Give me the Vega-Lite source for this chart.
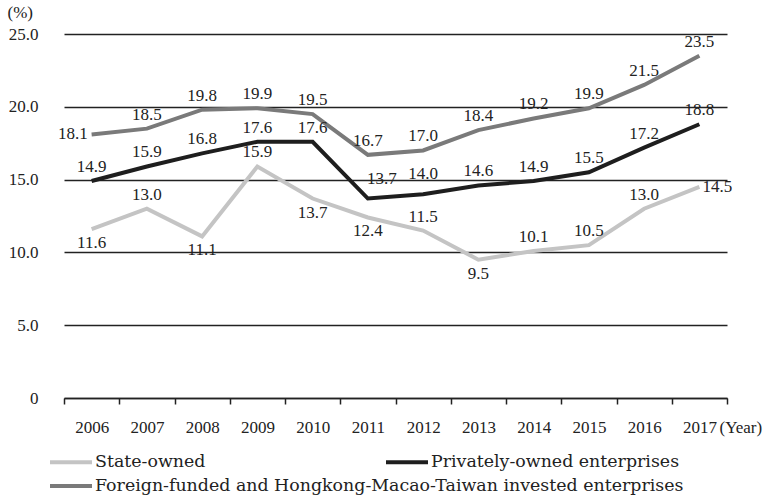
{
  "$schema": "https://vega.github.io/schema/vega-lite/v6.json",
  "width": 663,
  "height": 364,
  "autosize": "none",
  "padding": {"left": 64, "top": 34, "right": 41, "bottom": 100},
  "background": "white",
  "config": {
    "view": {"stroke": null},
    "font": "Liberation Serif",
    "text": {"font": "Liberation Serif", "fontSize": 17, "fill": "#222"},
    "legend": {"padding": 0}
  },
  "data": {
    "values": [
      {"year": "2006", "series": "State-owned", "value": 11.6, "pos": "below"},
      {"year": "2007", "series": "State-owned", "value": 13.0, "pos": "above"},
      {"year": "2008", "series": "State-owned", "value": 11.1, "pos": "below"},
      {"year": "2009", "series": "State-owned", "value": 15.9, "pos": "above"},
      {"year": "2010", "series": "State-owned", "value": 13.7, "pos": "below"},
      {"year": "2011", "series": "State-owned", "value": 12.4, "pos": "below"},
      {"year": "2012", "series": "State-owned", "value": 11.5, "pos": "above"},
      {"year": "2013", "series": "State-owned", "value": 9.5, "pos": "below"},
      {"year": "2014", "series": "State-owned", "value": 10.1, "pos": "above"},
      {"year": "2015", "series": "State-owned", "value": 10.5, "pos": "above"},
      {"year": "2016", "series": "State-owned", "value": 13.0, "pos": "above"},
      {"year": "2017", "series": "State-owned", "value": 14.5, "pos": "right"},
      {"year": "2006", "series": "Privately-owned enterprises", "value": 14.9, "pos": "above"},
      {"year": "2007", "series": "Privately-owned enterprises", "value": 15.9, "pos": "above"},
      {"year": "2008", "series": "Privately-owned enterprises", "value": 16.8, "pos": "above"},
      {"year": "2009", "series": "Privately-owned enterprises", "value": 17.6, "pos": "above"},
      {"year": "2010", "series": "Privately-owned enterprises", "value": 17.6, "pos": "above"},
      {"year": "2011", "series": "Privately-owned enterprises", "value": 13.7, "pos": "aboveright"},
      {"year": "2012", "series": "Privately-owned enterprises", "value": 14.0, "pos": "higher"},
      {"year": "2013", "series": "Privately-owned enterprises", "value": 14.6, "pos": "above"},
      {"year": "2014", "series": "Privately-owned enterprises", "value": 14.9, "pos": "above"},
      {"year": "2015", "series": "Privately-owned enterprises", "value": 15.5, "pos": "above"},
      {"year": "2016", "series": "Privately-owned enterprises", "value": 17.2, "pos": "above"},
      {"year": "2017", "series": "Privately-owned enterprises", "value": 18.8, "pos": "above"},
      {"year": "2006", "series": "Foreign-funded and Hongkong-Macao-Taiwan invested enterprises", "value": 18.1, "pos": "left"},
      {"year": "2007", "series": "Foreign-funded and Hongkong-Macao-Taiwan invested enterprises", "value": 18.5, "pos": "above"},
      {"year": "2008", "series": "Foreign-funded and Hongkong-Macao-Taiwan invested enterprises", "value": 19.8, "pos": "above"},
      {"year": "2009", "series": "Foreign-funded and Hongkong-Macao-Taiwan invested enterprises", "value": 19.9, "pos": "above"},
      {"year": "2010", "series": "Foreign-funded and Hongkong-Macao-Taiwan invested enterprises", "value": 19.5, "pos": "above"},
      {"year": "2011", "series": "Foreign-funded and Hongkong-Macao-Taiwan invested enterprises", "value": 16.7, "pos": "above"},
      {"year": "2012", "series": "Foreign-funded and Hongkong-Macao-Taiwan invested enterprises", "value": 17.0, "pos": "above"},
      {"year": "2013", "series": "Foreign-funded and Hongkong-Macao-Taiwan invested enterprises", "value": 18.4, "pos": "above"},
      {"year": "2014", "series": "Foreign-funded and Hongkong-Macao-Taiwan invested enterprises", "value": 19.2, "pos": "above"},
      {"year": "2015", "series": "Foreign-funded and Hongkong-Macao-Taiwan invested enterprises", "value": 19.9, "pos": "above"},
      {"year": "2016", "series": "Foreign-funded and Hongkong-Macao-Taiwan invested enterprises", "value": 21.5, "pos": "above"},
      {"year": "2017", "series": "Foreign-funded and Hongkong-Macao-Taiwan invested enterprises", "value": 23.5, "pos": "above"}
    ]
  },
  "encoding": {
    "x": {
      "field": "year", "type": "ordinal", "bandPosition": 0.5,
      "scale": {"type": "band", "paddingInner": 0, "paddingOuter": 0},
      "axis": {
        "title": "(Year)", "titleFont": "Liberation Serif", "titleFontSize": 17, "titleFontWeight": "normal",
        "titleColor": "#222", "titleAlign": "left", "titleBaseline": "middle", "titleX": 655, "titleY": 29, "titleAngle": 0,
        "labelFont": "Liberation Serif", "labelFontSize": 17, "labelColor": "#222", "labelAngle": 0, "labelPadding": 15,
        "domainColor": "#222", "domainWidth": 1.5, "tickColor": "#222", "tickWidth": 1.5, "tickSize": 6,
        "tickBand": "extent", "grid": false
      }
    },
    "y": {
      "field": "value", "type": "quantitative",
      "scale": {"domain": [0, 25]},
      "axis": {
        "values": [0, 5, 10, 15, 20, 25],
        "labelExpr": "datum.value == 0 ? '0' : format(datum.value, '.1f')",
        "title": "(%)", "titleFont": "Liberation Serif", "titleFontSize": 17, "titleFontWeight": "normal", "titleColor": "#222",
        "titleAngle": 0, "titleAlign": "left", "titleBaseline": "middle", "titleX": -57, "titleY": -22,
        "labelFont": "Liberation Serif", "labelFontSize": 17, "labelColor": "#222", "labelPadding": 26,
        "domain": false, "ticks": false,
        "grid": true, "gridColor": "#222", "gridWidth": 1.5
      }
    }
  },
  "layer": [
    {
      "transform": [{"filter": "datum.series != 'Foreign-funded and Hongkong-Macao-Taiwan invested enterprises'"}],
      "mark": {"type": "line", "strokeWidth": 4},
      "encoding": {
        "color": {
          "field": "series", "type": "nominal",
          "scale": {
            "domain": ["State-owned", "Privately-owned enterprises"],
            "range": ["#c4c4c4", "#1e1e1e"]
          },
          "legend": {
            "title": null, "orient": "none", "direction": "horizontal", "columns": 2,
            "legendX": -16, "legendY": 405, "columnPadding": 172,
            "symbolType": "stroke", "symbolSize": 1764, "symbolStrokeWidth": 4, "labelOffset": 1,
            "labelFont": "DejaVu Serif", "labelFontSize": 17.4, "labelColor": "#222", "labelLimit": 700
          }
        }
      }
    },
    {
      "transform": [{"filter": "datum.series == 'Foreign-funded and Hongkong-Macao-Taiwan invested enterprises'"}],
      "mark": {"type": "line", "strokeWidth": 4},
      "encoding": {
        "stroke": {
          "field": "series", "type": "nominal",
          "scale": {
            "domain": ["Foreign-funded and Hongkong-Macao-Taiwan invested enterprises"],
            "range": ["#7a7a7a"]
          },
          "legend": {
            "title": null, "orient": "none", "direction": "horizontal",
            "legendX": -16, "legendY": 429,
            "symbolType": "stroke", "symbolSize": 1764, "symbolStrokeWidth": 4, "labelOffset": 1,
            "labelFont": "DejaVu Serif", "labelFontSize": 17.4, "labelColor": "#222", "labelLimit": 700
          }
        }
      }
    },
    {
      "transform": [{"filter": "datum.pos == 'above'"}],
      "mark": {"type": "text", "baseline": "alphabetic", "dy": -9, "fill": "#222"},
      "encoding": {"text": {"field": "value", "format": ".1f"}}
    },
    {
      "transform": [{"filter": "datum.pos == 'higher'"}],
      "mark": {"type": "text", "baseline": "alphabetic", "dy": -15, "fill": "#222"},
      "encoding": {"text": {"field": "value", "format": ".1f"}}
    },
    {
      "transform": [{"filter": "datum.pos == 'aboveright'"}],
      "mark": {"type": "text", "baseline": "alphabetic", "dy": -15, "dx": 14, "fill": "#222"},
      "encoding": {"text": {"field": "value", "format": ".1f"}}
    },
    {
      "transform": [{"filter": "datum.pos == 'below'"}],
      "mark": {"type": "text", "baseline": "alphabetic", "dy": 19, "fill": "#222"},
      "encoding": {"text": {"field": "value", "format": ".1f"}}
    },
    {
      "transform": [{"filter": "datum.pos == 'left'"}],
      "mark": {"type": "text", "baseline": "middle", "align": "right", "dx": -4, "fill": "#222"},
      "encoding": {"text": {"field": "value", "format": ".1f"}}
    },
    {
      "transform": [{"filter": "datum.pos == 'right'"}],
      "mark": {"type": "text", "baseline": "middle", "align": "left", "dx": 3, "fill": "#222"},
      "encoding": {"text": {"field": "value", "format": ".1f"}}
    }
  ]
}
